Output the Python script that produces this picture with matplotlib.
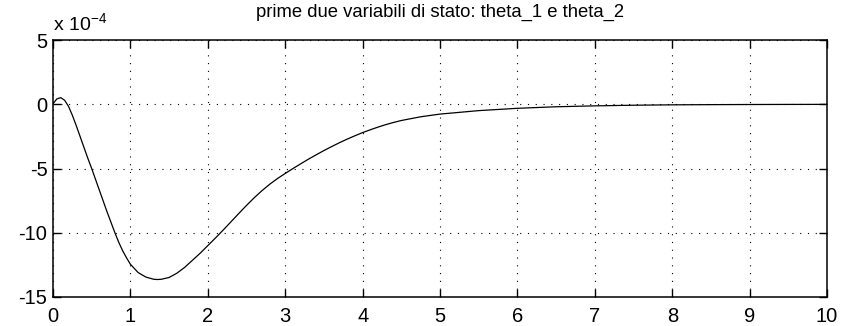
import numpy as np
import matplotlib
matplotlib.use("Agg")
from matplotlib import pyplot as plt

plt.rcParams['font.family'] = ['Liberation Sans', 'DejaVu Sans']
plt.rcParams['mathtext.fontset'] = 'custom'
plt.rcParams['mathtext.rm'] = 'Liberation Sans'
plt.rcParams['axes.unicode_minus'] = False

# time (s) and state value (units of 1e-4)
t = [0.0, 0.05, 0.1, 0.15, 0.2, 0.25, 0.3, 0.35, 0.4, 0.45, 0.5, 0.55,
     0.6, 0.65, 0.7, 0.75, 0.8, 0.85, 0.9, 0.95, 1.0, 1.1, 1.2, 1.3,
     1.35, 1.4, 1.5, 1.6, 1.7, 1.8, 1.9, 2.0, 2.1, 2.2, 2.3, 2.4, 2.5,
     2.6, 2.7, 2.8, 2.9, 3.0, 3.1, 3.2, 3.3, 3.4, 3.5, 3.6, 3.7, 3.8,
     3.9, 4.0, 4.1, 4.2, 4.3, 4.4, 4.5, 4.75, 5.0, 5.5, 6.0, 6.5, 7.0,
     7.5, 8.0, 8.5, 9.0, 9.5, 10.0]
y = [0.05, 0.42, 0.52, 0.32, -0.15, -0.85, -1.65, -2.5, -3.35, -4.2, -5.0,
     -5.85, -6.7, -7.55, -8.4, -9.2, -10.0, -10.75, -11.4, -11.95, -12.45,
     -13.1, -13.45, -13.62, -13.64, -13.62, -13.48, -13.15, -12.7, -12.15,
     -11.6, -11.0, -10.4, -9.78, -9.14, -8.5, -7.87, -7.27, -6.72, -6.22,
     -5.78, -5.38, -5.0, -4.63, -4.27, -3.93, -3.6, -3.29, -2.99, -2.71,
     -2.45, -2.2, -1.98, -1.77, -1.58, -1.41, -1.26, -0.97, -0.76, -0.49,
     -0.31, -0.19, -0.12, -0.07, -0.04, -0.025, -0.015, -0.008, -0.005]

xticks = [0, 1, 2, 3, 4, 5, 6, 7, 8, 9, 10]
yticks = [-15, -10, -5, 0, 5]

fig = plt.figure(figsize=(8.41, 3.26), dpi=100)
ax = fig.add_axes([0.063, 0.089, 0.9205, 0.788])

ax.plot(t, y, color='black', linewidth=0.9)

ax.set_xlim(0, 10)
ax.set_ylim(-15, 5)
ax.set_xticks(xticks)
ax.set_yticks(yticks)
ax.tick_params(direction='in', length=6, width=1.0, top=True, right=True,
               labelsize=14.5, colors='black')
ax.tick_params(axis='x', pad=7)
ax.tick_params(axis='y', pad=4)
for sp in ax.spines.values():
    sp.set_linewidth(1.1)

ax.grid(True, color='black', linestyle=(0, (1, 6)), linewidth=0.8)

ax.text(0.0, 1.02, r'x 10$^{\mathregular{-4}}$', transform=ax.transAxes,
        fontsize=14, ha='left', va='bottom')
ax.set_title('prime due variabili di stato: theta_1 e theta_2',
             fontsize=13.3, pad=17)

plt.savefig('out.png', dpi=100)
